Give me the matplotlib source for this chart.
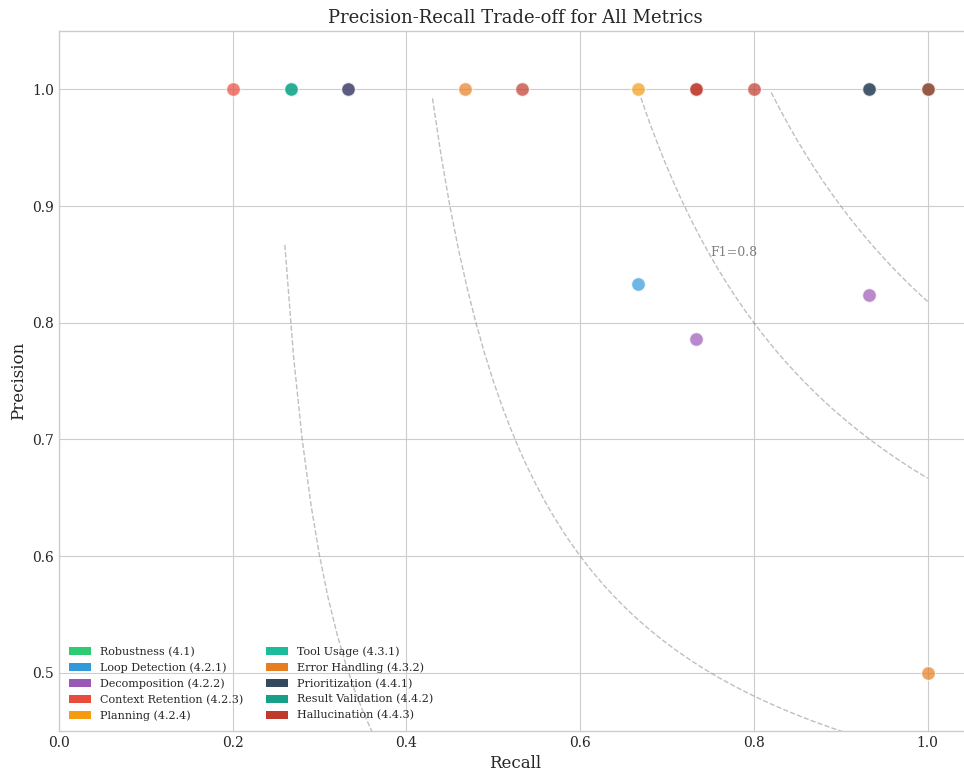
import numpy as np
import matplotlib
matplotlib.use("Agg")
import matplotlib.pyplot as plt
from matplotlib.patches import Patch

# metricas y colores de la leyenda
metricas = ["Robustness (4.1)", "Loop Detection (4.2.1)", "Decomposition (4.2.2)",
            "Context Retention (4.2.3)", "Planning (4.2.4)", "Tool Usage (4.3.1)",
            "Error Handling (4.3.2)", "Prioritization (4.4.1)", "Result Validation (4.4.2)",
            "Hallucination (4.4.3)"]
colores = ["#2ecc71", "#3498db", "#9b59b6", "#e74c3c", "#f39c12",
           "#1abc9c", "#e67e22", "#34495e", "#16a085", "#c0392b"]

# puntos (recall, precision) de cada metrica
recall = {
    "Robustness (4.1)": [1.0],
    "Loop Detection (4.2.1)": [0.667],
    "Decomposition (4.2.2)": [0.333, 0.733, 0.933],
    "Context Retention (4.2.3)": [0.2],
    "Planning (4.2.4)": [0.667],
    "Tool Usage (4.3.1)": [0.267],
    "Error Handling (4.3.2)": [0.467, 1.0],
    "Prioritization (4.4.1)": [0.333, 0.933, 0.933],
    "Result Validation (4.4.2)": [0.267, 1.0],
    "Hallucination (4.4.3)": [0.533, 0.733, 0.733, 0.8, 1.0],
}
precision = {
    "Robustness (4.1)": [1.0],
    "Loop Detection (4.2.1)": [0.833],
    "Decomposition (4.2.2)": [1.0, 0.786, 0.824],
    "Context Retention (4.2.3)": [1.0],
    "Planning (4.2.4)": [1.0],
    "Tool Usage (4.3.1)": [1.0],
    "Error Handling (4.3.2)": [1.0, 0.5],
    "Prioritization (4.4.1)": [1.0, 1.0, 1.0],
    "Result Validation (4.4.2)": [1.0, 1.0],
    "Hallucination (4.4.3)": [1.0, 1.0, 1.0, 1.0, 1.0],
}
f1_valores = [0.4, 0.6, 0.8, 0.9]

plt.style.use("seaborn-v0_8-whitegrid")
plt.rcParams["font.family"] = ["DejaVu Serif"]

fig = plt.figure(figsize=(9.64, 7.76), dpi=100)
ax = fig.add_axes([59/964, 45/776, 912/964, 700/776])

# curvas de F1 constante
r = np.linspace(0.01, 1, 100)
for f in f1_valores:
    p = f * r / (2 * r - f)
    ok = (p > 0) & (p < 1)
    ax.plot(r[ok], p[ok], "--", color="gray", alpha=0.5, linewidth=1)
    if f == 0.8:
        ax.text(0.75, f * 0.75 / (1.5 - f), "F1=" + str(f), color="gray", fontsize=9)

for m, c in zip(metricas, colores):
    ax.scatter(recall[m], precision[m], s=100, color=c, alpha=0.7,
               edgecolor="white", linewidth=1, zorder=3)

handles = [Patch(facecolor=c, label=m) for m, c in zip(metricas, colores)]
ax.legend(handles=handles, loc="lower left", ncol=2, fontsize=8, frameon=False)

ax.set_xlim(0, 1.05)
ax.set_ylim(0.45, 1.05)
ax.spines["right"].set_visible(False)
ax.set_xlabel("Recall", fontsize=12)
ax.set_ylabel("Precision", fontsize=12)
ax.set_title("Precision-Recall Trade-off for All Metrics", fontsize=13)

fig.savefig("out.png", dpi=100)
